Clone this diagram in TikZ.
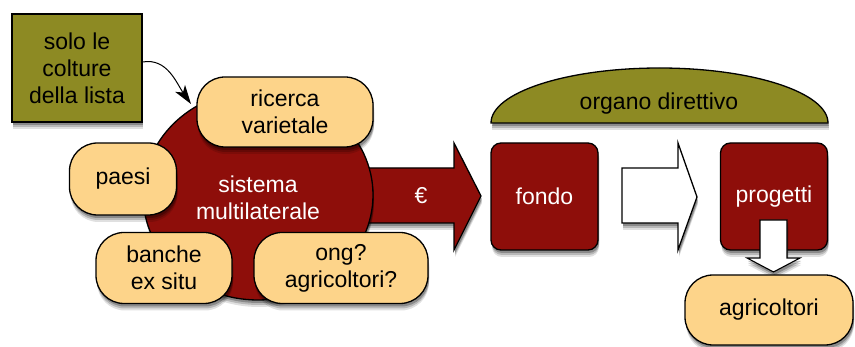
\documentclass[tikz,border=0pt]{standalone}
\usepackage{fontspec}
\setmainfont{Liberation Sans}
\usetikzlibrary{shadows,arrows.meta,shapes.geometric}
\definecolor{dred}{HTML}{8E0E0A}
\definecolor{peach}{HTML}{FDD48A}
\definecolor{olivebox}{HTML}{8D8A23}
\begin{document}
\begin{tikzpicture}[x=1pt,y=-1pt,
  shad/.style={
    general shadow={shadow xshift=1pt,shadow yshift=-7pt,opacity=0.12,fill=black},
    general shadow={shadow xshift=1pt,shadow yshift=-5pt,opacity=0.18,fill=black},
    general shadow={shadow xshift=1pt,shadow yshift=-3pt,opacity=0.25,fill=black}},
  txt/.style={align=center,font=\fontsize{23}{27}\selectfont,inner sep=0pt},
  pill/.style={txt,draw=black,line width=1.3pt,fill=peach,rounded corners=28pt,shad},
  redbox/.style={txt,draw=black,line width=1.3pt,fill=dred,text=white,rounded corners=10pt,shad,minimum width=107pt,minimum height=107pt},
  blockarrow/.style={draw=black,line width=1.3pt,shad}
]
\useasboundingbox (0,0) rectangle (855,347);

% euro arrow
\path[blockarrow,fill=dred] (360,168) -- (454,168) -- (454,143) -- (481,196) -- (454,250) -- (454,223) -- (360,223) -- cycle;
\node[txt,text=white] (euro) at (421,196) {€};

% central ellipse
\node[ellipse,draw=black,line width=1.3pt,fill=dred,shad,minimum width=230pt,minimum height=210pt,txt,text=white] (sis) at (258,195) {};
\node[txt,text=white] (sislabel) at (258,198) {sistema\\multilaterale};

% pills around
\node[pill,minimum width=176pt,minimum height=70pt] (ricerca) at (285,112) {ricerca\\varietale};
\node[pill,minimum width=107pt,minimum height=72pt] (paesi) at (123,179) {paesi};
\node[pill,minimum width=136pt,minimum height=71pt] (banche) at (164,268) {banche\\ex situ};
\node[pill,minimum width=174pt,minimum height=71pt] (ong) at (341,268) {ong?\\agricoltori?};

% olive box
\node[txt,draw=black,line width=1.3pt,fill=olivebox,shad,minimum width=130pt,minimum height=108pt] (solo) at (77,68) {solo le\\colture\\della lista};
\coordinate (tipc) at (191,104);
\draw[line width=1pt,-{Stealth[length=19pt,width=12pt,inset=5pt]}] ([yshift=6pt]solo.east) to[out=10,in=125] (tipc);

% organo direttivo
\path[fill=olivebox,draw=black,line width=1.3pt,shad] (491,123) arc[start angle=180,end angle=360,x radius=168.5,y radius=55] -- cycle;
\node[txt] (org) at (659,104) {organo direttivo};

% fondo, progetti
\node[redbox] (fondo) at (544.5,196.5) {fondo};
\path[blockarrow,fill=white] (622,168) -- (678,168) -- (678,143) -- (697,197) -- (678,250) -- (678,223) -- (622,223) -- cycle;
\node[redbox] (prog) at (774,196.5) {progetti};
\path[blockarrow,fill=white,line width=1.1pt] (760,220) -- (787,220) -- (787,258) -- (800,258) -- (773.5,272) -- (747,258) -- (760,258) -- cycle;
\node[pill,minimum width=168pt,minimum height=70pt] (agri) at (769,310) {agricoltori};
\end{tikzpicture}
\end{document}
